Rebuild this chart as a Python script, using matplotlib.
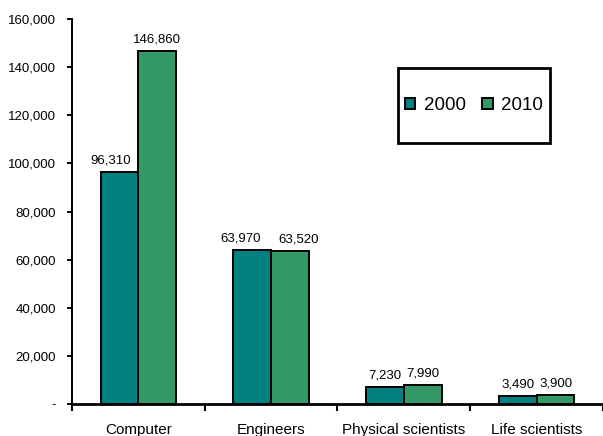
import numpy as np
import matplotlib.pyplot as plt
from matplotlib.patches import Rectangle
from matplotlib.ticker import FuncFormatter, FixedLocator

plt.rcParams['font.family'] = ['Liberation Sans', 'DejaVu Sans']

# Employment by occupation group
categories = ['Computer', 'Engineers', 'Physical scientists', 'Life scientists']
years = ['2000', '2010']
values_2000 = [96310, 63970, 7230, 3490]
values_2010 = [146860, 63520, 7990, 3900]
colors = ['#008080', '#339966']
# sideways nudge (points) for value labels that would crowd each other
label_shift = [[-6.5, -8, 0, 0], [0, 6, 0, 0]]

fig = plt.figure(figsize=(6.03, 4.36), dpi=100)
ax = fig.add_axes([0.1194, 0.0734, 0.8806, 0.883])

x = np.arange(len(categories))
w = 0.285
series = [values_2000, values_2010]
for i, vals in enumerate(series):
    offs = (i - 0.5) * w
    bars = ax.bar(x + offs, vals, width=w, color=colors[i], edgecolor='black',
                  linewidth=1.4, label=years[i], zorder=2)
    for j, (b, v) in enumerate(zip(bars, vals)):
        ax.annotate(f'{v:,}', (b.get_x() + b.get_width() / 2, v),
                    xytext=(label_shift[i][j], 4), textcoords='offset points',
                    ha='center', va='bottom', fontsize=9.5)

ax.set_xlim(-0.5, len(categories) - 0.5)
ax.set_ylim(0, 160000)
ax.set_yticks(np.arange(0, 160001, 20000))
ax.yaxis.set_major_formatter(FuncFormatter(lambda v, p: '-' if v == 0 else f'{int(v):,}'))
ax.tick_params(axis='y', direction='out', length=3.5, width=1.4, labelsize=9.5, pad=8)

ax.set_xticks(x)
ax.set_xticklabels(categories, fontsize=11)
ax.tick_params(axis='x', which='major', length=0, pad=14)
ax.xaxis.set_minor_locator(FixedLocator(np.arange(-0.5, len(categories), 1.0)))
ax.tick_params(axis='x', which='minor', direction='out', length=5, width=1.5)

for s in ['top', 'right']:
    ax.spines[s].set_visible(False)
ax.spines['left'].set_linewidth(1.4)
ax.spines['bottom'].set_linewidth(2)

# legend box
fig.patches.append(Rectangle((0.660, 0.672), 0.252, 0.172, transform=fig.transFigure,
                             fill=False, edgecolor='black', linewidth=2))
leg = ax.legend(loc='center', bbox_to_anchor=(0.786, 0.758),
                bbox_transform=fig.transFigure, ncol=2, fontsize=13.5,
                frameon=False, handlelength=0.55, handleheight=0.55,
                handletextpad=0.45, columnspacing=0.9, borderpad=0)

fig.savefig('out.png', dpi=100)
